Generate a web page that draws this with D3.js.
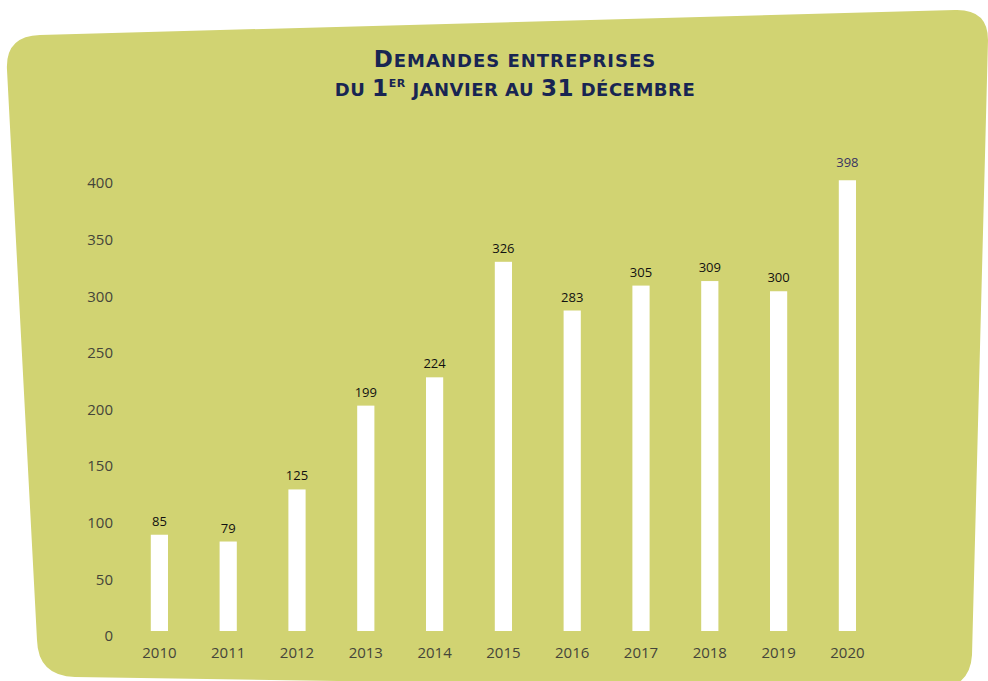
<!DOCTYPE html>
<html>
<head>
<meta charset="utf-8">
<script src="https://cdn.jsdelivr.net/npm/d3@7"></script>
<style>
  html, body { margin: 0; padding: 0; background: #ffffff; }
  svg { display: block; }
</style>
</head>
<body>
<svg id="chart" width="988" height="681"></svg>
<script>
// Demandes entreprises par année
const years = ["2010", "2011", "2012", "2013", "2014", "2015", "2016", "2017", "2018", "2019", "2020"];
const demandes = [85, 79, 125, 199, 224, 326, 283, 305, 309, 300, 398];
const yTicks = [0, 50, 100, 150, 200, 250, 300, 350, 400];

const svg = d3.select("#chart");

// Tilted green card behind the chart
const card = d3.path();
card.moveTo(7, 70);
card.quadraticCurveTo(5, 36, 40, 35);
card.lineTo(955, 10);
card.quadraticCurveTo(988, 9, 988, 40);
card.lineTo(972, 655);
card.quadraticCurveTo(970, 690, 930, 690);
card.lineTo(75, 677);
card.quadraticCurveTo(38, 676, 37, 640);
card.closePath();
svg.append("path").attr("d", card.toString()).attr("fill", "#d1d372");

// Title
const title = svg.append("text")
  .attr("text-anchor", "middle")
  .attr("fill", "#182552")
  .attr("font-family", "'DejaVu Sans', sans-serif")
  .attr("font-weight", "bold");
const line1 = title.append("tspan").attr("x", 515).attr("y", 67).attr("letter-spacing", 1);
line1.append("tspan").attr("font-size", 23).text("D");
line1.append("tspan").attr("font-size", 18).text("EMANDES ENTREPRISES");
const line2 = title.append("tspan").attr("x", 515).attr("y", 96).attr("letter-spacing", 0.5);
line2.append("tspan").attr("font-size", 18).text("DU ");
line2.append("tspan").attr("font-size", 23).text("1");
line2.append("tspan").attr("font-size", 11).attr("dy", -9).text("ER");
line2.append("tspan").attr("font-size", 18).attr("dy", 9).text(" JANVIER AU ");
line2.append("tspan").attr("font-size", 23).text("31");
line2.append("tspan").attr("font-size", 18).text(" DÉCEMBRE");

// Scales
const x = d3.scaleBand()
  .domain(years)
  .range([125, 881.8])
  .paddingInner(0.75)
  .paddingOuter(0.375);

const y = d3.scaleLinear()
  .domain([0, 400])
  .range([631, 178]);

// Y axis labels (no line, no ticks)
const yAxis = svg.append("g")
  .attr("transform", "translate(113,5)")
  .call(d3.axisLeft(y).tickValues(yTicks).tickSize(0).tickPadding(0));
yAxis.select(".domain").remove();
yAxis.selectAll("text")
  .attr("font-family", "'Open Sans', sans-serif")
  .attr("font-weight", 400)
  .attr("font-size", 15)
  .attr("fill", "#45453a");

// X axis labels
const xAxis = svg.append("g")
  .attr("transform", "translate(0,631)")
  .call(d3.axisBottom(x).tickSize(0).tickPadding(0));
xAxis.select(".domain").remove();
xAxis.selectAll("text")
  .attr("y", 27)
  .attr("dy", 0)
  .attr("font-family", "'Open Sans', sans-serif")
  .attr("font-weight", 400)
  .attr("font-size", 15)
  .attr("fill", "#45453a");

// Bars
const data = years.map((yr, i) => ({ year: yr, value: demandes[i] }));
svg.append("g")
  .selectAll("rect")
  .data(data)
  .join("rect")
  .attr("x", d => x(d.year))
  .attr("y", d => y(d.value))
  .attr("width", x.bandwidth())
  .attr("height", d => y(0) - y(d.value))
  .attr("fill", "#ffffff");

// Value labels
svg.append("g")
  .selectAll("text")
  .data(data)
  .join("text")
  .attr("x", d => x(d.year) + x.bandwidth() / 2)
  .attr("y", d => y(d.value) - (d.year === "2020" ? 13 : 9))
  .attr("text-anchor", "middle")
  .attr("font-family", "'Open Sans', sans-serif")
  .attr("font-size", 13)
  .attr("fill", d => d.year === "2020" ? "#3a3462" : "#111111")
  .text(d => d.value);
</script>
</body>
</html>
